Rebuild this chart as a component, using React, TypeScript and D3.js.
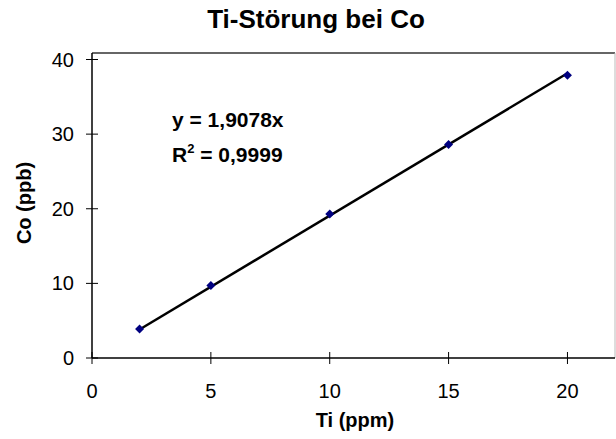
import React from "react";
import * as d3 from "d3";

const tiValues = [2, 5, 10, 15, 20];
const coValues = [3.9, 9.7, 19.3, 28.6, 37.9];
const xTicks = [0, 5, 10, 15, 20];
const yTicks = [0, 10, 20, 30, 40];
const slope = 1.9078;
const title = "Ti-Störung bei Co";
const xTitle = "Ti (ppm)";
const yTitle = "Co (ppb)";
const eqText = "y = 1,9078x";
const r2Value = "0,9999";

export default function App() {
  const W = 616, H = 439;
  const left = 92, right = 615, top = 53, bottom = 358;
  const x = d3.scaleLinear().domain([0, 22]).range([left, right]);
  const y = d3.scaleLinear().domain([0, 40]).range([bottom, 59.5]);
  const font = "Liberation Sans, Arial, sans-serif";
  const line = d3.line<number>().x((d) => x(d)).y((d) => y(slope * d));
  const xs = [tiValues[0], tiValues[tiValues.length - 1]];
  return (
    <svg width={W} height={H} style={{ position: "absolute", left: 0, top: 0, background: "#fff" }} fontFamily={font}>
      <rect x={0} y={0} width={W} height={H} fill="#fff" />
      <text x={316} y={28} textAnchor="middle" fontSize={26} fontWeight="bold">{title}</text>
      {/* plot frame */}
      <line x1={left} x2={right} y1={top} y2={top} stroke="#333" strokeWidth={1.5} />
      <line x1={right} x2={right} y1={top} y2={bottom} stroke="#bbb" strokeWidth={1} />
      {/* axes */}
      <line x1={left} x2={left} y1={top} y2={bottom} stroke="#000" strokeWidth={1.5} />
      <line x1={left} x2={right} y1={bottom} y2={bottom} stroke="#000" strokeWidth={1.5} />
      {yTicks.map((t) => (
        <g key={"y" + t}>
          <line x1={left - 6} x2={left + 6} y1={y(t)} y2={y(t)} stroke="#000" strokeWidth={1} />
          <text x={74} y={y(t) + 7} textAnchor="end" fontSize={20}>{t}</text>
        </g>
      ))}
      {xTicks.map((t) => (
        <g key={"x" + t}>
          <line x1={x(t)} x2={x(t)} y1={bottom - 6} y2={bottom + 6} stroke="#000" strokeWidth={1} />
          <text x={x(t)} y={398} textAnchor="middle" fontSize={20}>{t}</text>
        </g>
      ))}
      <text x={355} y={427} textAnchor="middle" fontSize={20} fontWeight="bold">{xTitle}</text>
      <text transform={`translate(31,203) rotate(-90)`} textAnchor="middle" fontSize={20} fontWeight="bold">{yTitle}</text>
      <path d={line(xs) || ""} fill="none" stroke="#000" strokeWidth={2.5} />
      {tiValues.map((t, i) => {
        const cx = x(t), cy = y(coValues[i]);
        const r = 4.5;
        return <path key={i} d={`M${cx},${cy - r}L${cx + r},${cy}L${cx},${cy + r}L${cx - r},${cy}Z`} fill="#000080" />;
      })}
      <text x={172} y={127} fontSize={21} fontWeight="bold">{eqText}</text>
      <text x={172} y={162} fontSize={21} fontWeight="bold">
        R<tspan dy={-9} fontSize={13}>2</tspan><tspan dy={9}> = {r2Value}</tspan>
      </text>
    </svg>
  );
}
